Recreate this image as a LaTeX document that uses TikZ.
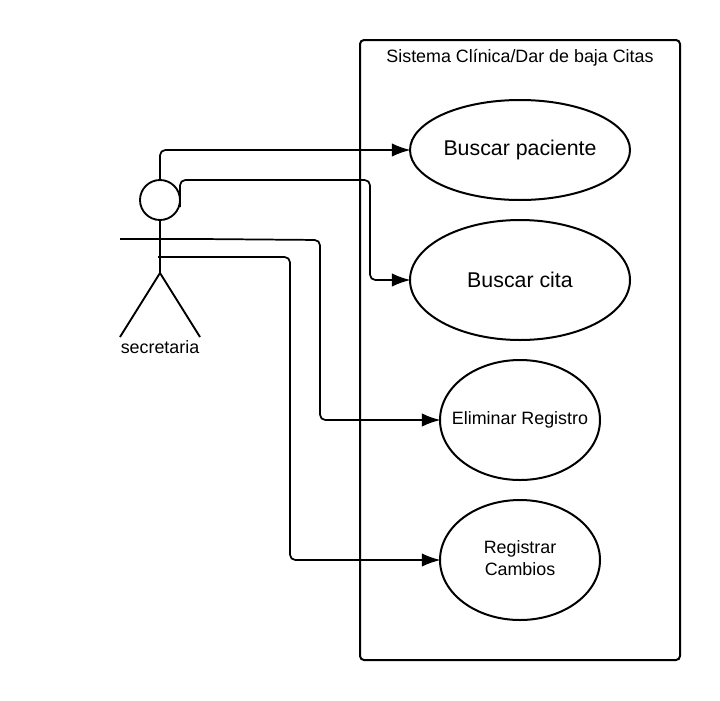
\documentclass[tikz,border=0pt]{standalone}
\usepackage{fontspec}
\setmainfont{Liberation Sans}
\usetikzlibrary{arrows.meta,shapes.geometric}
\tikzset{
 uc/.style={draw=black,line width=1.5pt,ellipse,inner sep=-15pt,align=center},
 conn/.style={line width=1.3pt,rounded corners=4pt,shorten >=-1.2pt,-{Latex[length=14pt,width=10pt]}},
 actor/.style={line width=1.4pt},
 small/.style={font=\fontsize{13.4pt}{15.75pt}\selectfont},
 big/.style={font=\fontsize{16pt}{19pt}\selectfont},
}
\begin{document}
\begin{tikzpicture}[x=0.75pt,y=-0.75pt]
\useasboundingbox (0,0) rectangle (720,700);
\node[draw=black,line width=1.5pt,rounded corners=3pt,minimum width=240pt,minimum height=465pt,inner sep=0pt] (sys) at (520,350) {};
\node[small] (syst) at (520,58) {Sistema Clínica/Dar de baja Citas};
\node[uc,big,minimum width=165pt,minimum height=75pt] (a) at (520,150) {\raisebox{1pt}{Buscar paciente}};
\node[uc,big,minimum width=165pt,minimum height=90pt] (b) at (520,280) {\raisebox{1pt}{Buscar cita}};
\node[uc,small,minimum width=120pt,minimum height=90pt] (c) at (520,420) {\raisebox{1pt}{Eliminar Registro}};
\node[uc,small,minimum width=120pt,minimum height=90pt] (d) at (520,560) {\raisebox{3.2pt}{Registrar}\\\raisebox{2.8pt}{Cambios}};
\node[circle,draw=black,actor,minimum size=30pt,inner sep=0pt] (head) at (160,200) {};
\coordinate (hip) at (160,273);
\coordinate (armL) at (120,239);
\coordinate (armR) at (200,239);
\coordinate (footL) at (120,337);
\coordinate (footR) at (200,337);
\coordinate (top) at (160,180);
\coordinate (side) at (180,207);
\coordinate (body) at (158,257);
\draw[actor] (head.south) -- (hip);
\draw[actor] (armL) -- (armR);
\draw[actor] (footL) -- (hip) -- (footR);
\node[small] (lab) at (160,347) {secretaria};
\draw[conn] (top) |- (a.west);
\draw[conn] (side) -- (180,180) -- (370,180) |- (b.west);
\draw[conn] (armR) -- (320,240) |- (c.west);
\draw[conn] (body) -- (290,257) |- (d.west);
\end{tikzpicture}
\end{document}
